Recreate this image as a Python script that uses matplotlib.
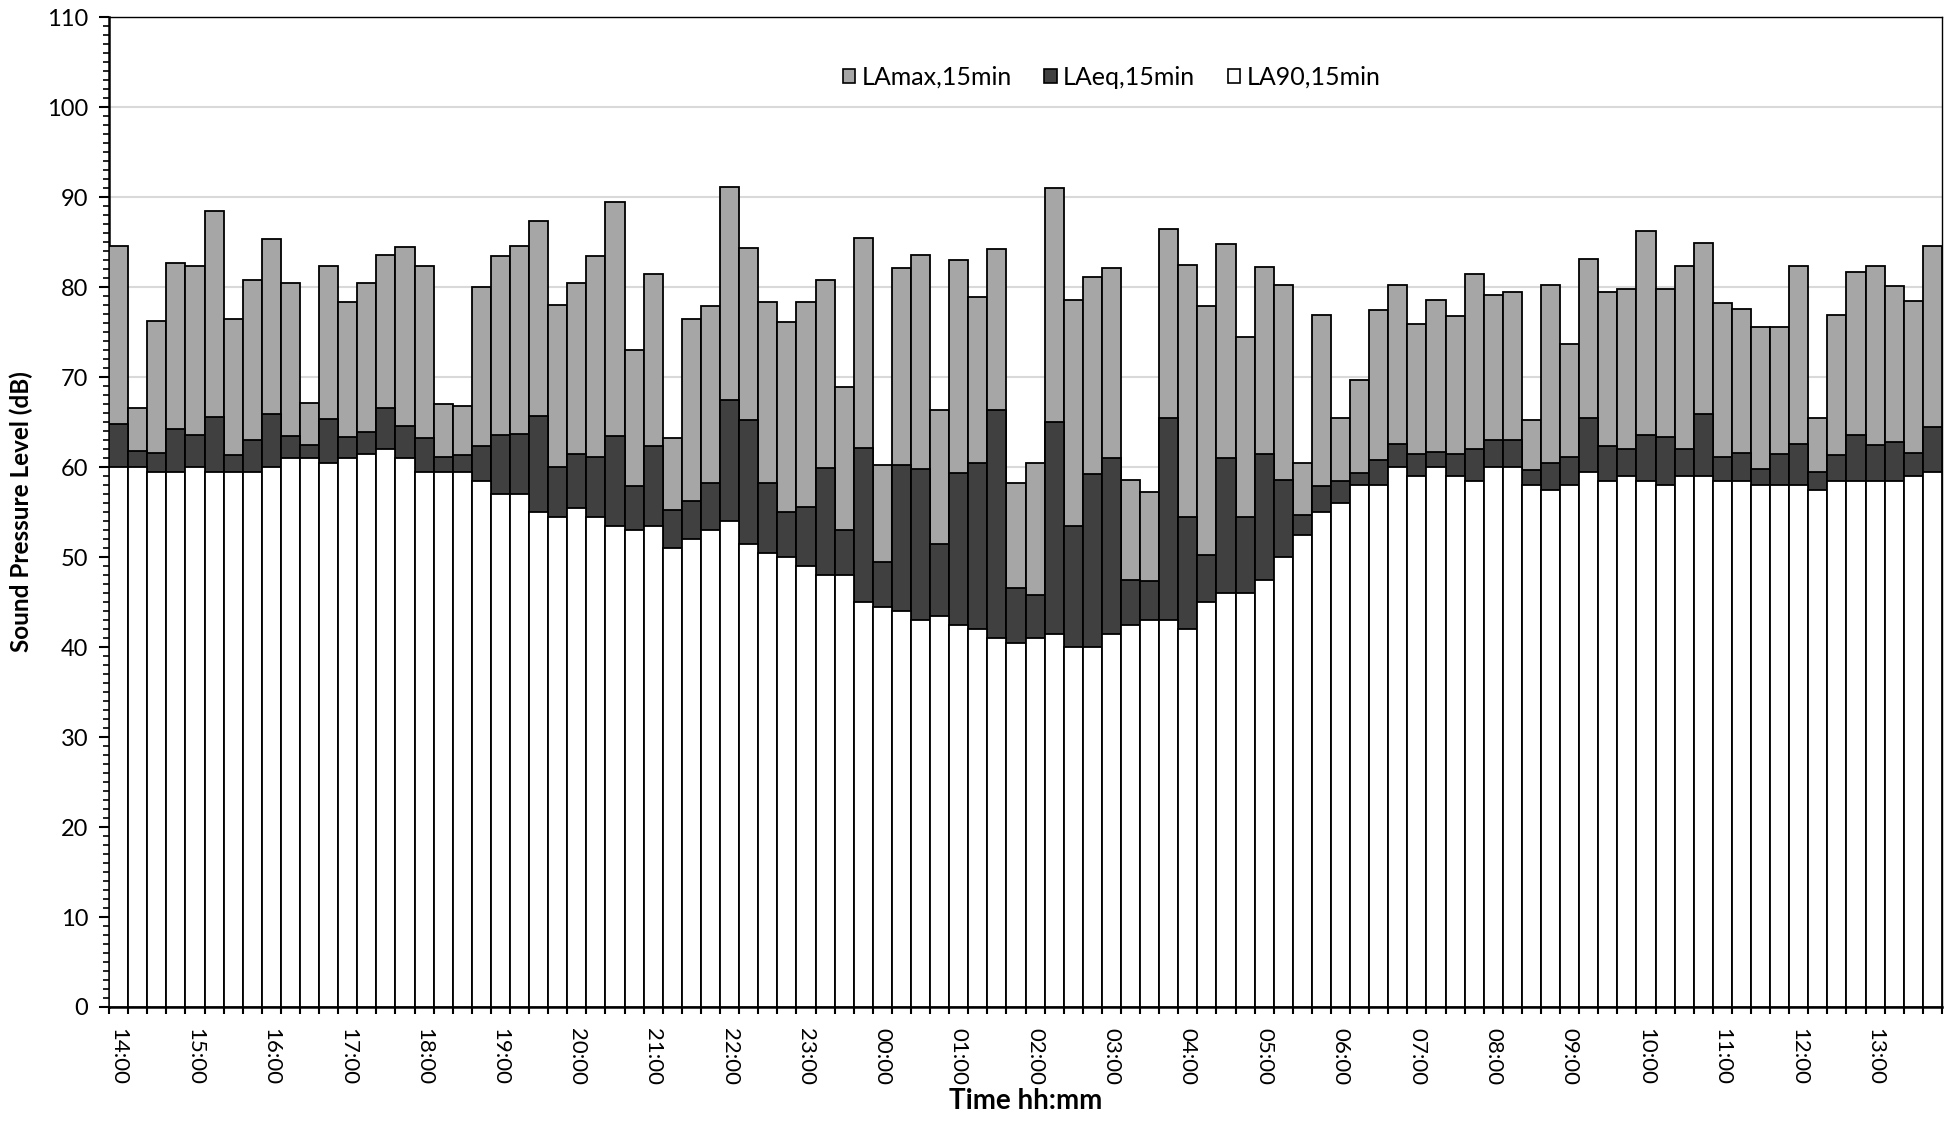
import numpy as np
import matplotlib
matplotlib.use("Agg")
import matplotlib.pyplot as plt
from matplotlib.patches import Patch
from matplotlib.ticker import MultipleLocator, FixedLocator

plt.rcParams['font.family'] = ['Lato', 'DejaVu Sans']

# hour labels, one every 4 bars (15 min intervals)
hour_labels = ["14:00", "15:00", "16:00", "17:00", "18:00", "19:00", "20:00", "21:00",
               "22:00", "23:00", "00:00", "01:00", "02:00", "03:00", "04:00", "05:00",
               "06:00", "07:00", "08:00", "09:00", "10:00", "11:00", "12:00", "13:00"]

la_max = [84.6, 66.6, 76.2, 82.7, 82.3, 88.4, 76.5, 80.8, 85.3, 80.5, 67.1, 82.3,
          78.3, 80.5, 83.6, 84.5, 82.3, 67.0, 66.8, 80.0, 83.4, 84.6, 87.3, 78.0,
          80.4, 83.4, 89.4, 73.0, 81.5, 63.2, 76.5, 77.9, 91.1, 84.3, 78.3, 76.1,
          78.3, 80.8, 68.9, 85.5, 60.2, 82.1, 83.6, 66.3, 83.0, 78.9, 84.2, 58.2,
          60.5, 91.0, 78.6, 81.1, 82.1, 58.6, 57.2, 86.5, 82.4, 77.9, 84.8, 74.4,
          82.2, 80.2, 60.5, 76.9, 65.5, 69.7, 77.5, 80.2, 75.9, 78.6, 76.8, 81.4,
          79.1, 79.5, 65.2, 80.2, 73.7, 83.1, 79.5, 79.8, 86.2, 79.8, 82.3, 84.9,
          78.2, 77.6, 75.6, 75.6, 82.3, 65.4, 76.9, 81.7, 82.3, 80.1, 78.5, 84.6]

la_eq = [64.8, 61.8, 61.6, 64.2, 63.6, 65.6, 61.3, 63.0, 65.9, 63.4, 62.4, 65.3,
         63.3, 63.9, 66.6, 64.6, 63.2, 61.1, 61.3, 62.3, 63.6, 63.7, 65.7, 60.0,
         61.4, 61.1, 63.5, 57.9, 62.3, 55.2, 56.2, 58.2, 67.5, 65.2, 58.2, 55.0,
         55.6, 59.9, 53.0, 62.1, 49.4, 60.2, 59.8, 51.5, 59.3, 60.4, 66.3, 46.6,
         45.8, 65.0, 53.4, 59.2, 61.0, 47.4, 47.3, 65.5, 54.5, 50.2, 61.0, 54.5,
         61.5, 58.6, 54.7, 57.9, 58.4, 59.3, 60.8, 62.6, 61.4, 61.7, 61.4, 62.0,
         63.0, 63.0, 59.7, 60.5, 61.1, 65.5, 62.3, 62.0, 63.6, 63.3, 62.0, 65.9,
         61.1, 61.6, 59.8, 61.5, 62.6, 59.5, 61.3, 63.6, 62.5, 62.8, 61.6, 64.5]

la90 = [60.0, 60.0, 59.5, 59.5, 60.0, 59.5, 59.5, 59.5, 60.0, 61.0, 61.0, 60.5,
        61.0, 61.5, 62.0, 61.0, 59.5, 59.5, 59.5, 58.5, 57.0, 57.0, 55.0, 54.5,
        55.5, 54.5, 53.5, 53.0, 53.5, 51.0, 52.0, 53.0, 54.0, 51.5, 50.5, 50.0,
        49.0, 48.0, 48.0, 45.0, 44.5, 44.0, 43.0, 43.5, 42.5, 42.0, 41.0, 40.5,
        41.0, 41.5, 40.0, 40.0, 41.5, 42.5, 43.0, 43.0, 42.0, 45.0, 46.0, 46.0,
        47.5, 50.0, 52.5, 55.0, 56.0, 58.0, 58.0, 60.0, 59.0, 60.0, 59.0, 58.5,
        60.0, 60.0, 58.0, 57.5, 58.0, 59.5, 58.5, 59.0, 58.5, 58.0, 59.0, 59.0,
        58.5, 58.5, 58.0, 58.0, 58.0, 57.5, 58.5, 58.5, 58.5, 58.5, 59.0, 59.5]

series_names = ["LAmax,15min", "LAeq,15min", "LA90,15min"]
series_colors = ["#a6a6a6", "#404040", "#ffffff"]

fig = plt.figure(figsize=(19.48, 11.23), dpi=100)
ax = fig.add_axes([0.056, 0.1033, 0.9409, 0.8815])

x = np.arange(len(la_max))
# bars overlap from zero: max behind, then eq, then L90 in front
for vals, col in zip([la_max, la_eq, la90], series_colors):
    ax.bar(x, vals, width=1.0, color=col, edgecolor="black", linewidth=1.3, zorder=3)

ax.set_xlim(-0.5, len(x) - 0.5)
ax.set_ylim(0, 110)
ax.yaxis.set_major_locator(MultipleLocator(10))
ax.yaxis.set_minor_locator(MultipleLocator(1))
ax.grid(axis="y", which="major", color="#d9d9d9", linewidth=1.5, zorder=0)
ax.set_axisbelow(True)

# labels at bar centres every hour, ticks at every bar boundary
ax.xaxis.set_major_locator(FixedLocator(x[::4]))
ax.set_xticklabels(hour_labels, rotation=-90, fontsize=16)
ax.xaxis.set_minor_locator(FixedLocator(np.arange(-0.5, len(x), 1.0)))
ax.tick_params(axis="x", which="major", length=0, pad=15)
ax.tick_params(axis="x", which="minor", length=5, width=1.5, direction="out")
ax.tick_params(axis="y", which="major", length=7, width=1.5, labelsize=17, pad=8)
ax.tick_params(axis="y", which="minor", length=4, width=1.2)

for s in ax.spines.values():
    s.set_linewidth(1.0)
ax.spines["left"].set_linewidth(1.8)
ax.spines["bottom"].set_linewidth(1.8)

ax.set_ylabel("Sound Pressure Level (dB)", fontsize=17.5, fontweight="bold", labelpad=10)
ax.set_xlabel("Time hh:mm", fontsize=20, fontweight="bold", labelpad=2)

handles = [Patch(facecolor=c, edgecolor="black", linewidth=1.2) for c in series_colors]
ax.legend(handles, series_names, loc="center", bbox_to_anchor=(0.547, 0.939), ncol=3,
          frameon=False, fontsize=18, handlelength=0.5, handleheight=0.5,
          handletextpad=0.25, columnspacing=1.3)

fig.savefig("out.png", dpi=100, facecolor="white")
